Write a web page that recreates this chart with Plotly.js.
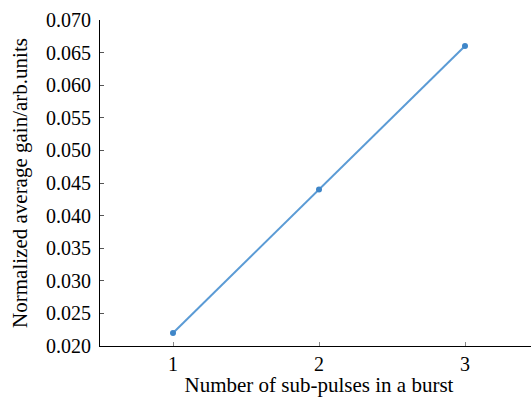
<!DOCTYPE html>
<html>
<head>
<meta charset="utf-8">
<script src="https://cdn.plot.ly/plotly-3.0.1.min.js"></script>
<style>
html,body{margin:0;padding:0;overflow:hidden;background:#fff;width:531px;height:397px;}
#chart{width:540px;height:397px;}
</style>
</head>
<body>
<div id="chart"></div>
<script>
const subPulses = [1, 2, 3];
const gain = [0.022, 0.044, 0.066];
const yTicks = [0.020, 0.025, 0.030, 0.035, 0.040, 0.045, 0.050, 0.055, 0.060, 0.065, 0.070];
const xTicks = [1, 2, 3];
const xTitle = 'Number of sub-pulses in a burst';
const yTitle = 'Normalized average gain/arb.units';

const fam = '"Liberation Serif", "Times New Roman", serif';
const tickFont = {family: fam, size: 20, color: '#000'};
const titleFont = {family: fam, size: 21, color: '#000'};

Plotly.newPlot('chart', [{
  x: subPulses,
  y: gain,
  type: 'scatter',
  mode: 'lines+markers',
  line: {color: '#5b9bd5', width: 2},
  marker: {color: '#3f86c8', size: 6}
}], {
  width: 540,
  height: 397,
  margin: {l: 100, r: 2, t: 20, b: 51},
  paper_bgcolor: '#fff',
  plot_bgcolor: '#fff',
  font: tickFont,
  showlegend: false,
  xaxis: {
    range: [0.5, 3.5],
    tickvals: xTicks,
    ticktext: xTicks.map(String),
    ticks: 'inside',
    ticklen: 4,
    tickcolor: '#888',
    showline: true,
    linecolor: '#000',
    linewidth: 1,
    showgrid: false,
    zeroline: false,
    tickfont: tickFont,
    title: {text: xTitle, font: titleFont, standoff: 14}
  },
  yaxis: {
    range: [0.02, 0.07],
    tickvals: yTicks,
    ticktext: yTicks.map(v => v.toFixed(3)),
    ticks: 'inside',
    ticklen: 4,
    tickcolor: '#555',
    ticklabelstandoff: 4,
    showline: true,
    linecolor: '#000',
    linewidth: 1,
    showgrid: false,
    zeroline: false,
    tickfont: tickFont,
    title: {text: yTitle, font: titleFont, standoff: 12}
  }
}, {displayModeBar: false, staticPlot: true});
</script>
</body>
</html>
